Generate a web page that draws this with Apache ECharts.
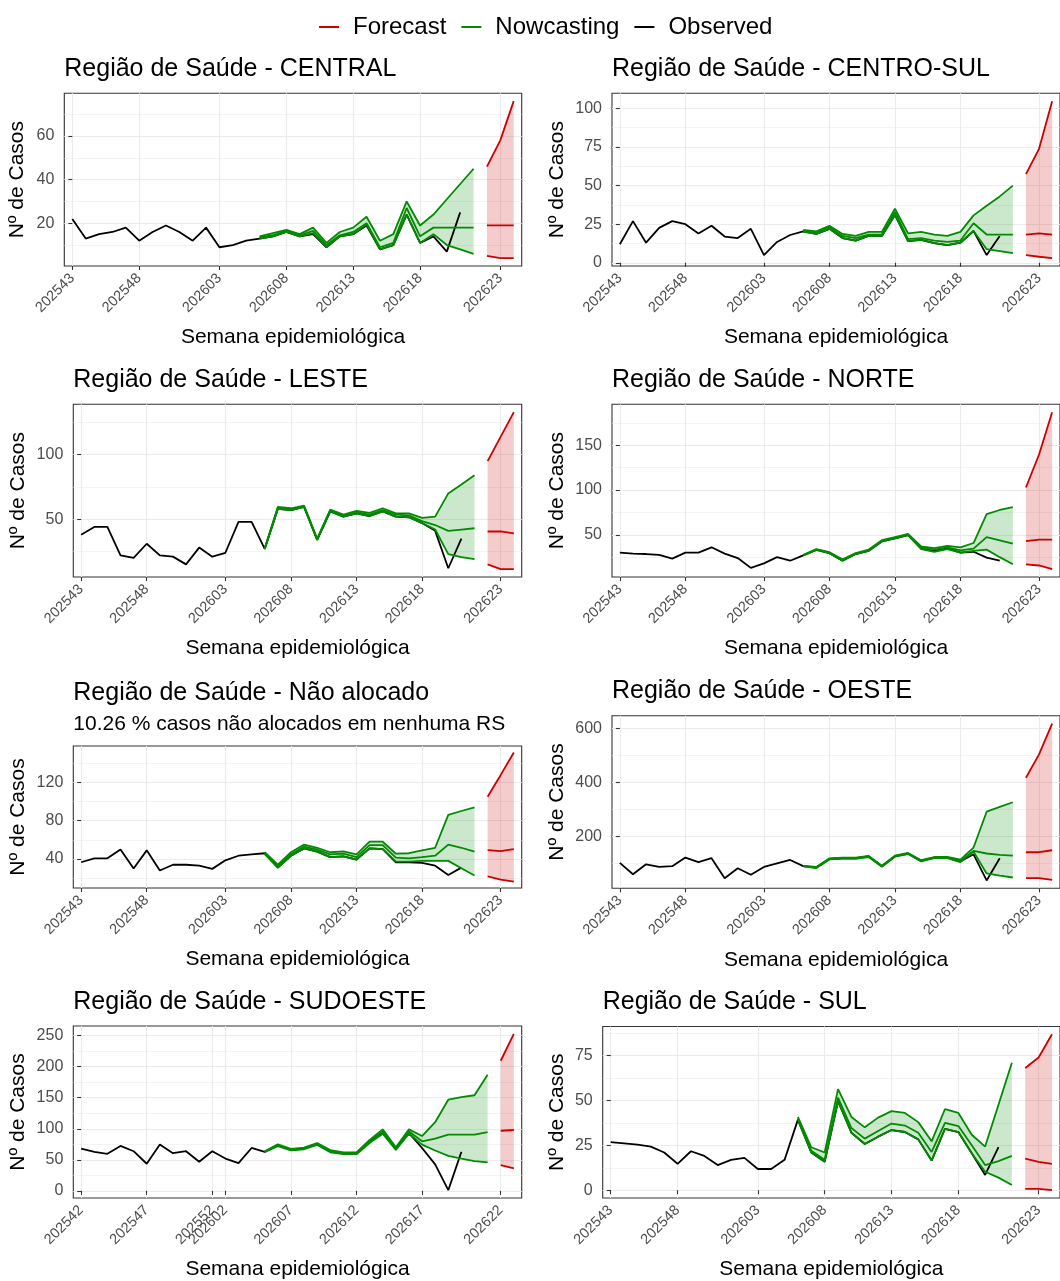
<!DOCTYPE html>
<html lang="pt-BR">
<head>
<meta charset="UTF-8">
<title>Nowcasting e previsão por Região de Saúde</title>
<script src="https://cdn.jsdelivr.net/npm/echarts@6/dist/echarts.min.js"></script>
<style>
  body { margin: 0; background: #fff; }
  #chart { width: 1060px; height: 1281px; }
</style>
</head>
<body>
<div id="chart"></div>
<script>
// ticks of the week axis (position = week index on the plot)
const weekTicks = [0, 5, 11, 16, 21, 26, 32];
const weekLabels = ['202543', '202548', '202603', '202608', '202613', '202618', '202623'];
const weekTicksSudoeste = [0, 5, 10, 11, 16, 21, 26, 32];
const weekLabelsSudoeste = ['202542', '202547', '202552', '202602', '202607', '202612', '202617', '202622'];

// observed from week 0, nowcasting from week 14, forecast from week 31 (SUDOESTE: 14 / 32)
const centralObs = [22, 13, 15, 16, 18, 12, 16, 19, 16, 12, 18, 9, 10, 12, 13, 14, 16, 14, 15, 9, 14, 15, 19, 8, 10, 24, 11, 14, 7, 25];
const centralNcLow = [13, 14, 16, 14, 15.5, 9, 14, 15, 19.5, 8, 10, 24, 11, 15, 10, 8, 6];
const centralNcMed = [13.5, 14.5, 16.5, 14.5, 16.5, 10, 14.5, 16, 20, 9, 11, 27, 14, 18, 18, 18, 18];
const centralNcUpp = [14, 15.5, 17, 15, 18, 11, 16, 18, 23, 12, 15, 30, 19, 24, 31, 38, 45];
const centralFcLow = [5, 4, 4];
const centralFcMed = [19, 19, 19];
const centralFcUpp = [46, 58, 76];

const centroSulObs = [12, 27, 13, 22.6, 27, 25, 19, 24, 17, 16, 22, 5, 13.5, 18, 20.4, 18.7, 22, 16, 14.4, 17.4, 17.4, 31, 14, 14.8, 12.7, 11.4, 13, 20.6, 5, 17.4];
const centroSulNcLow = [20, 18.7, 22, 16, 14.4, 17.4, 17.4, 31, 14, 14.8, 12.7, 11.4, 13, 20.6, 8.8, 7.5, 6.2];
const centroSulNcMed = [20.4, 19.6, 23, 17.4, 16, 18.3, 18.3, 33, 15.3, 16, 14.4, 13.5, 14.4, 25.6, 18.3, 18.3, 18.3];
const centroSulNcUpp = [21.3, 20.4, 24, 18.7, 17.4, 20, 20, 35, 19, 20, 18.3, 17.4, 20, 30.7, 37, 43, 50];
const centroSulFcLow = [5, 3.9, 3];
const centroSulFcMed = [18.3, 19, 18.3];
const centroSulFcUpp = [57.4, 73.8, 104.7];

const lesteObs = [38, 44, 44, 22, 20, 31, 22, 21, 15, 28, 21, 24, 48, 48, 27, 58, 57, 59.5, 34, 56, 52, 54.5, 52.5, 56, 52, 51.5, 47, 41, 12, 35];
const lesteNcLow = [27, 58, 57, 59.5, 34, 56, 52, 54.5, 52.5, 56, 52, 51.5, 47, 42, 23, 20.6, 19];
const lesteNcMed = [27, 59, 57.5, 60, 34.5, 57, 52.5, 55.5, 53.5, 57, 53.5, 53, 48.5, 45.5, 41, 42, 43];
const lesteNcUpp = [27.5, 59.5, 58.5, 60.5, 35, 57.5, 53.5, 56.5, 55, 58.5, 54.5, 54.5, 51, 52, 70, 77, 84];
const lesteFcLow = [15, 11.3, 11.3];
const lesteFcMed = [40.5, 40.5, 39];
const lesteFcUpp = [95, 114, 133];

const norteObs = [30, 29, 28.5, 27.5, 23.4, 30, 30, 36, 29, 24, 13, 18, 25, 21, 27, 33, 29.5, 21, 28.5, 32, 42.5, 46, 49.5, 35, 32.5, 35, 30, 31, 24.5, 21];
const norteNcLow = [27, 33, 29.5, 21, 28.5, 32, 42.5, 46, 49.5, 34, 31, 34, 30, 32, 33.4, 25, 17];
const norteNcMed = [27, 33.4, 30, 21.6, 29, 32.6, 43, 46.7, 50, 36, 33.4, 36, 32.6, 34.5, 47.4, 43.7, 40];
const norteNcUpp = [27.5, 34, 30.5, 22.5, 29.5, 33.5, 44, 47.5, 51, 37, 35, 37.5, 36, 40.8, 73, 77.7, 81];
const norteFcLow = [17, 15.7, 11.6];
const norteFcMed = [43, 44.5, 44.5];
const norteFcUpp = [102.8, 139.7, 187];

const naoAlocadoObs = [36.6, 40.7, 40.7, 50, 30, 49, 28, 34, 34, 33, 29.7, 38.6, 43.4, 44.8, 46, 31, 43.4, 51, 47.6, 42, 42.8, 39.3, 51, 50.3, 36.6, 36.6, 36, 33, 23.4, 31];
const naoAlocadoNcLow = [45, 31, 43.4, 51, 47.6, 42, 42.8, 39.3, 51, 50.3, 37.2, 37.2, 38, 38, 38, 30.4, 22.8];
const naoAlocadoNcMed = [46, 32.4, 44.8, 53, 49.7, 44.8, 45.5, 42, 54.5, 54.5, 41.4, 40.7, 42, 43.4, 55, 51.7, 47.6];
const naoAlocadoNcUpp = [47, 34, 47, 55, 51.7, 47, 48, 44.8, 58, 58, 45.5, 46, 49, 51.7, 86, 90, 93.8];
const naoAlocadoFcLow = [22, 18.6, 16.5];
const naoAlocadoFcMed = [49.3, 48.3, 50.3];
const naoAlocadoFcUpp = [104.8, 127.6, 151];

const oesteObs = [101, 59, 96, 86, 89, 121, 104, 118.5, 44.4, 81.5, 57, 86, 99, 112, 89, 84, 116, 118.5, 118.5, 125, 89, 126, 136, 108.6, 121, 121, 106, 133, 36, 118.5];
const oesteNcLow = [88, 82, 114, 116.5, 116.5, 123, 87, 124, 134, 106.5, 119, 119, 104, 143, 62, 54.3, 47];
const oesteNcMed = [89, 84, 116, 118.5, 118.5, 125, 89, 126, 136, 108.6, 121, 121, 108.6, 145.7, 136, 131, 128];
const oesteNcUpp = [90, 86, 118, 120.5, 120.5, 127, 91, 128, 138, 111, 123, 123, 113, 158, 291, 308.6, 326];
const oesteFcLow = [44.4, 44.4, 38];
const oesteFcMed = [140.7, 140.7, 148];
const oesteFcUpp = [417, 503.7, 618];

const sudoesteObs = [68, 62.8, 59.6, 72.3, 63.8, 43.6, 74.5, 60.6, 63.8, 46.8, 63.8, 52, 44.7, 69, 62.8, 73.4, 66, 68, 75.5, 63.8, 60.6, 60.6, 79.8, 93, 68, 93, 69, 42.5, 1, 62.8];
const sudoesteNcLow = [62.8, 72, 65, 67, 74, 62, 59, 59, 77, 92, 66, 92, 74.5, 65, 56.4, 52, 47.9, 45.7];
const sudoesteNcMed = [62.8, 73.4, 66, 68, 75.5, 63.8, 60.6, 60.6, 79.8, 95.7, 68, 95.7, 79.8, 84, 90.4, 90.4, 90.4, 94.7];
const sudoesteNcUpp = [63.5, 75, 67.5, 69.5, 77, 65.5, 62, 62, 82, 99, 70, 99, 88.3, 110.6, 146.8, 151, 154, 187];
const sudoesteFcLow = [41.5, 36.2];
const sudoesteFcMed = [96.8, 98];
const sudoesteFcUpp = [209.6, 253];

const sulObs = [26.8, 26.1, 25.4, 24.3, 21, 14.7, 21.7, 19.1, 14, 16.9, 18, 11.8, 11.8, 16.9, 39.3, 21, 15.8, 49.6, 32, 25.7, 29.8, 33.5, 32.4, 28.3, 16.5, 34.2, 32.4, 20.6, 8.5, 24];
const sulNcLow = [39, 21, 15.8, 49.6, 32, 25.7, 29.8, 33.5, 32.4, 28.3, 16.5, 34.2, 32.4, 20.6, 10.3, 7, 2.9];
const sulNcMed = [40, 22, 17, 51.5, 34.6, 28.7, 33, 37.1, 36, 32, 21.3, 37.5, 35.7, 25, 14, 16.2, 19.1];
const sulNcUpp = [40.8, 23.9, 21, 56.3, 40.8, 35, 40.4, 44, 43, 37.9, 27.2, 45.2, 43, 30.9, 24.3, 47.6, 71];
const sulFcLow = [0.7, 0.7, 0];
const sulFcMed = [17.6, 15.8, 14.7];
const sulFcUpp = [68, 73.9, 86.8];

const regions = [
  { name: 'CENTRAL', obs: centralObs, ncLow: centralNcLow, ncMed: centralNcMed, ncUpp: centralNcUpp, fcLow: centralFcLow, fcMed: centralFcMed, fcUpp: centralFcUpp, ncStart: 14, fcStart: 31, step: 20, ticks: weekTicks, labels: weekLabels },
  { name: 'CENTRO-SUL', obs: centroSulObs, ncLow: centroSulNcLow, ncMed: centroSulNcMed, ncUpp: centroSulNcUpp, fcLow: centroSulFcLow, fcMed: centroSulFcMed, fcUpp: centroSulFcUpp, ncStart: 14, fcStart: 31, step: 25, ticks: weekTicks, labels: weekLabels },
  { name: 'LESTE', obs: lesteObs, ncLow: lesteNcLow, ncMed: lesteNcMed, ncUpp: lesteNcUpp, fcLow: lesteFcLow, fcMed: lesteFcMed, fcUpp: lesteFcUpp, ncStart: 14, fcStart: 31, step: 50, ticks: weekTicks, labels: weekLabels },
  { name: 'NORTE', obs: norteObs, ncLow: norteNcLow, ncMed: norteNcMed, ncUpp: norteNcUpp, fcLow: norteFcLow, fcMed: norteFcMed, fcUpp: norteFcUpp, ncStart: 14, fcStart: 31, step: 50, ticks: weekTicks, labels: weekLabels },
  { name: 'Não alocado', sub: '10.26 % casos não alocados em nenhuma RS', obs: naoAlocadoObs, ncLow: naoAlocadoNcLow, ncMed: naoAlocadoNcMed, ncUpp: naoAlocadoNcUpp, fcLow: naoAlocadoFcLow, fcMed: naoAlocadoFcMed, fcUpp: naoAlocadoFcUpp, ncStart: 14, fcStart: 31, step: 40, ticks: weekTicks, labels: weekLabels },
  { name: 'OESTE', obs: oesteObs, ncLow: oesteNcLow, ncMed: oesteNcMed, ncUpp: oesteNcUpp, fcLow: oesteFcLow, fcMed: oesteFcMed, fcUpp: oesteFcUpp, ncStart: 14, fcStart: 31, step: 200, ticks: weekTicks, labels: weekLabels },
  { name: 'SUDOESTE', obs: sudoesteObs, ncLow: sudoesteNcLow, ncMed: sudoesteNcMed, ncUpp: sudoesteNcUpp, fcLow: sudoesteFcLow, fcMed: sudoesteFcMed, fcUpp: sudoesteFcUpp, ncStart: 14, fcStart: 32, step: 50, ticks: weekTicksSudoeste, labels: weekLabelsSudoeste },
  { name: 'SUL', obs: sulObs, ncLow: sulNcLow, ncMed: sulNcMed, ncUpp: sulNcUpp, fcLow: sulFcLow, fcMed: sulFcMed, fcUpp: sulFcUpp, ncStart: 14, fcStart: 31, step: 25, ticks: weekTicks, labels: weekLabels }
];

// plot panels in px
const panels = [
  { left: 64.3, top: 93.3, width: 457.4, height: 172.7, titleY: 69, yGap: 37 },
  { left: 612, top: 93.3, width: 449, height: 172.7, titleY: 69, yGap: 44 },
  { left: 73.3, top: 404.3, width: 448.4, height: 172.7, titleY: 380, yGap: 45 },
  { left: 612, top: 404.3, width: 449, height: 172.7, titleY: 380, yGap: 44 },
  { left: 73.3, top: 746, width: 448.4, height: 142, titleY: 693, subY: 724.5, yGap: 45 },
  { left: 612, top: 715.7, width: 449, height: 172.6, titleY: 691.5, yGap: 44 },
  { left: 73.3, top: 1026, width: 448.4, height: 174, titleY: 1002, yGap: 45 },
  { left: 602.7, top: 1026.5, width: 458.3, height: 173.5, titleY: 1002, yGap: 35 }
];

const FONT = '"Liberation Sans", Arial, Helvetica, sans-serif';
const RED = '#CD0000', GREEN = '#008B00', BLACK = '#000000';
const RED_FILL = 'rgba(205,0,0,0.2)', GREEN_FILL = 'rgba(0,139,0,0.2)';

function pts(arr, start) {
  return arr.map((v, k) => [start + k, v]);
}

// ribbon between lower and upper bound, drawn as one polygon
function band(gi, name, start, lo, hi, fill) {
  const xs = lo.map((v, k) => start + k);
  return {
    type: 'custom', name: name, xAxisIndex: gi, yAxisIndex: gi, silent: true, z: 1,
    itemStyle: { color: fill },
    data: xs.map((x, k) => [x, lo[k], hi[k]]),
    encode: { x: 0, y: [1, 2] },
    renderItem: function (params, api) {
      if (params.dataIndex !== 0) return null;
      const top = xs.map((x, k) => api.coord([x, hi[k]]));
      const bottom = xs.map((x, k) => api.coord([x, lo[k]])).reverse();
      return { type: 'polygon', shape: { points: top.concat(bottom) }, style: { fill: fill } };
    }
  };
}

function line(gi, name, data, color, z) {
  return {
    type: 'line', name: name, xAxisIndex: gi, yAxisIndex: gi, data: data,
    showSymbol: false, symbol: 'none', z: z, silent: true,
    itemStyle: { color: color },
    lineStyle: { color: color, width: 1.8 }
  };
}

const option = {
  animation: false,
  backgroundColor: '#ffffff',
  textStyle: { fontFamily: FONT },
  legend: {
    left: 314, top: 10, icon: 'rect', itemWidth: 20, itemHeight: 2, itemGap: 15,
    data: ['Forecast', 'Nowcasting', 'Observed'],
    textStyle: { fontSize: 24, color: '#000', fontFamily: FONT, padding: [0, 0, 0, 9] }
  },
  title: [], grid: [], xAxis: [], yAxis: [], series: []
};

regions.forEach((r, i) => {
  const p = panels[i];
  const all = r.obs.concat(r.ncLow, r.ncUpp, r.fcLow, r.fcUpp);
  const dMin = Math.min.apply(null, all), dMax = Math.max.apply(null, all);
  const pad = (dMax - dMin) * 0.05;
  const yMin = dMin - pad, yMax = dMax + pad;
  const yTicks = [];
  for (let v = Math.ceil(yMin / r.step) * r.step; v <= yMax; v += r.step) yTicks.push(v);

  option.title.push({
    text: 'Região de Saúde - ' + r.name, left: p.left, top: p.titleY - 12.5, padding: 0,
    textStyle: { fontSize: 25, fontWeight: 'normal', color: '#000', fontFamily: FONT, lineHeight: 25 }
  });
  if (r.sub) {
    option.title.push({
      text: r.sub, left: p.left, top: p.subY - 10.5, padding: 0,
      textStyle: { fontSize: 21, fontWeight: 'normal', color: '#000', fontFamily: FONT, lineHeight: 21 }
    });
  }

  option.grid.push({
    left: p.left, top: p.top, width: p.width, height: p.height,
    show: true, borderColor: '#333333', borderWidth: 1.1, backgroundColor: '#fff'
  });

  option.xAxis.push({
    type: 'value', gridIndex: i, min: -0.6, max: 33.6,
    name: 'Semana epidemiológica', nameLocation: 'middle', nameGap: 61,
    nameTextStyle: { fontSize: 21, color: '#000', fontFamily: FONT },
    axisLine: { show: false },
    axisTick: { show: true, length: 4, customValues: r.ticks, lineStyle: { color: '#333', width: 1.1 } },
    axisLabel: {
      customValues: r.ticks, rotate: 45, fontSize: 14.5, color: '#4D4D4D', margin: 10, fontFamily: FONT,
      padding: [8, 0, 0, 0],
      formatter: v => r.labels[r.ticks.indexOf(v)] || ''
    },
    splitLine: { show: true, lineStyle: { color: '#EBEBEB', width: 1.1 } }
  });

  option.yAxis.push({
    type: 'value', gridIndex: i, min: yMin, max: yMax,
    minInterval: r.step, maxInterval: r.step,
    name: 'Nº de Casos', nameLocation: 'middle', nameGap: p.yGap,
    nameTextStyle: { fontSize: 21, color: '#000', fontFamily: FONT },
    axisLine: { show: false },
    axisTick: { show: true, length: 4, customValues: yTicks, lineStyle: { color: '#333', width: 1.1 } },
    axisLabel: { customValues: yTicks, fontSize: 16, color: '#4D4D4D', margin: 10, fontFamily: FONT },
    splitLine: { show: true, lineStyle: { color: '#EBEBEB', width: 1.1 } },
    minorTick: { show: false, splitNumber: 2 },
    minorSplitLine: { show: true, lineStyle: { color: '#EBEBEB', width: 0.6 } }
  });

  option.series.push(
    band(i, 'Nowcasting IC', r.ncStart, r.ncLow, r.ncUpp, GREEN_FILL),
    band(i, 'Forecast IC', r.fcStart, r.fcLow, r.fcUpp, RED_FILL),
    line(i, 'Observed', pts(r.obs, 0), BLACK, 2),
    line(i, 'Nowcasting', pts(r.ncLow, r.ncStart), GREEN, 3),
    line(i, 'Nowcasting', pts(r.ncMed, r.ncStart), GREEN, 3),
    line(i, 'Nowcasting', pts(r.ncUpp, r.ncStart), GREEN, 3),
    line(i, 'Forecast', pts(r.fcLow, r.fcStart), RED, 3),
    line(i, 'Forecast', pts(r.fcMed, r.fcStart), RED, 3),
    line(i, 'Forecast', pts(r.fcUpp, r.fcStart), RED, 3)
  );
});

const chart = echarts.init(document.getElementById('chart'), null, { renderer: 'canvas' });
chart.setOption(option);
</script>
</body>
</html>
